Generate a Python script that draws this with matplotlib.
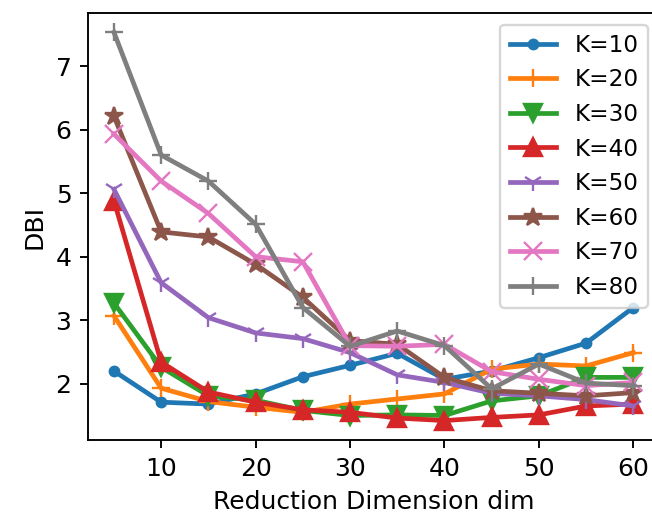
import numpy as np
import matplotlib
matplotlib.use("Agg")
import matplotlib.pyplot as plt

dims = [5, 10, 15, 20, 25, 30, 35, 40, 45, 50, 55, 60]

k10 = [2.20, 1.71, 1.68, 1.84, 2.11, 2.29, 2.48, 2.07, 2.20, 2.41, 2.64, 3.20]
k20 = [3.07, 1.93, 1.72, 1.63, 1.55, 1.68, 1.76, 1.84, 2.23, 2.31, 2.28, 2.49]
k30 = [3.27, 2.26, 1.81, 1.74, 1.58, 1.50, 1.51, 1.50, 1.73, 1.81, 2.10, 2.10]
k40 = [4.88, 2.34, 1.87, 1.71, 1.59, 1.55, 1.46, 1.42, 1.47, 1.51, 1.65, 1.68]
k50 = [5.06, 3.59, 3.04, 2.80, 2.71, 2.49, 2.14, 2.02, 1.85, 1.81, 1.75, 1.65]
k60 = [6.21, 4.39, 4.31, 3.88, 3.36, 2.68, 2.62, 2.10, 1.89, 1.85, 1.81, 1.86]
k70 = [5.93, 5.19, 4.68, 4.00, 3.92, 2.60, 2.59, 2.62, 2.19, 2.07, 1.97, 2.02]
k80 = [7.53, 5.60, 5.19, 4.51, 3.20, 2.59, 2.83, 2.60, 1.92, 2.31, 2.01, 1.97]

series = [k10, k20, k30, k40, k50, k60, k70, k80]
labels = ["K=10", "K=20", "K=30", "K=40", "K=50", "K=60", "K=70", "K=80"]
markers = [".", "+", "v", "^", "1", "*", "x", "+"]

plt.rcParams['font.size'] = 10.6

dpi = 170
fig = plt.figure(figsize=(652 / dpi, 516 / dpi), dpi=dpi)
ax = fig.add_axes([88 / 652, 1 - 440 / 516, (659.3 - 88) / 652, (440 - 13) / 516])

for vals, lab, m in zip(series, labels, markers):
    ax.plot(dims, vals, marker=m, markersize=8, linewidth=2, label=lab)

ax.set_xlabel("Reduction Dimension dim")
ax.set_ylabel("DBI")
ax.legend(loc="upper right", fontsize=9.8)

fig.savefig("out.png", dpi=dpi)
